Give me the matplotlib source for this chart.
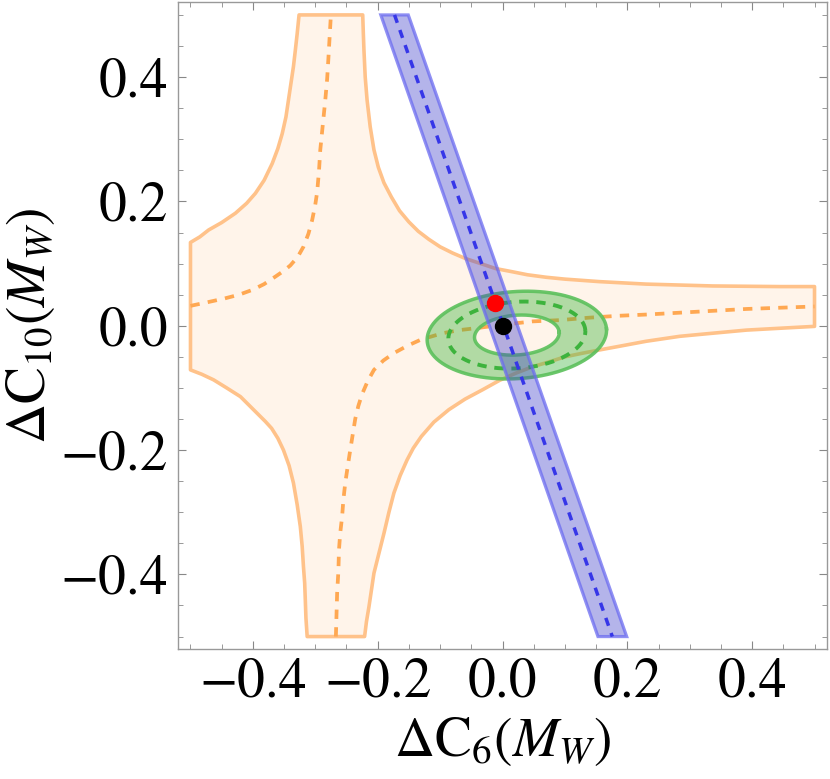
import numpy as np
import matplotlib
matplotlib.use('Agg')
import matplotlib.pyplot as plt
from matplotlib.patches import Polygon, PathPatch
from matplotlib.path import Path
from matplotlib.ticker import MultipleLocator, FuncFormatter

plt.rcParams['mathtext.fontset'] = 'stix'
plt.rcParams['font.family'] = ['STIXGeneral', 'DejaVu Serif']

# orange band: outer boundary pieces
c1_x = [-0.5, -0.485, -0.471, -0.450, -0.428, -0.410, -0.396, -0.382, -0.369, -0.360,
        -0.353, -0.347, -0.343, -0.339, -0.335, -0.332, -0.329, -0.326]
c1_y = [0.134, 0.143, 0.154, 0.166, 0.181, 0.197, 0.213, 0.234, 0.261, 0.285,
        0.309, 0.336, 0.363, 0.390, 0.417, 0.443, 0.470, 0.5]

c2_x = [-0.224, -0.223, -0.222, -0.220, -0.217, -0.212, -0.206, -0.199, -0.190, -0.178,
        -0.165, -0.150, -0.135, -0.118, -0.100, -0.080, -0.059, -0.035, -0.011, 0.015,
        0.040, 0.070, 0.100, 0.155, 0.230, 0.337, 0.445, 0.5]
c2_y = [0.5, 0.470, 0.443, 0.400, 0.363, 0.320, 0.283, 0.255, 0.230, 0.207,
        0.185, 0.167, 0.152, 0.139, 0.127, 0.117, 0.108, 0.100, 0.092, 0.087,
        0.082, 0.078, 0.075, 0.071, 0.067, 0.064, 0.063, 0.063]

c4_x = [0.5, 0.445, 0.391, 0.337, 0.284, 0.230, 0.182, 0.155, 0.129, 0.100,
        0.075, 0.048, 0.022, -0.005, -0.032, -0.060, -0.086, -0.110, -0.130, -0.143,
        -0.153, -0.164, -0.174, -0.182, -0.190, -0.198, -0.206, -0.210, -0.214, -0.218, -0.221]
c4_y = [-0.001, -0.004, -0.007, -0.012, -0.017, -0.025, -0.034, -0.039, -0.044, -0.050,
        -0.058, -0.066, -0.076, -0.088, -0.103, -0.118, -0.135, -0.155, -0.178, -0.197,
        -0.216, -0.241, -0.269, -0.300, -0.334, -0.366, -0.398, -0.425, -0.452, -0.476, -0.5]

c3_x = [-0.313, -0.315, -0.316, -0.317, -0.319, -0.321, -0.324, -0.329, -0.335, -0.342,
        -0.351, -0.360, -0.370, -0.380, -0.388, -0.404, -0.420, -0.442, -0.463, -0.482, -0.5]
c3_y = [-0.5, -0.470, -0.441, -0.414, -0.387, -0.355, -0.323, -0.288, -0.253, -0.225,
        -0.200, -0.181, -0.165, -0.154, -0.146, -0.130, -0.114, -0.100, -0.087, -0.078, -0.071]

# orange central curve (two branches)
d1_x = [-0.5, -0.472, -0.445, -0.422, -0.400, -0.382, -0.364, -0.351, -0.340, -0.328,
        -0.319, -0.311, -0.305, -0.300, -0.297, -0.294, -0.292, -0.288, -0.284, -0.281,
        -0.279, -0.277, -0.275]
d1_y = [0.032, 0.038, 0.044, 0.050, 0.058, 0.067, 0.079, 0.088, 0.097, 0.111,
        0.127, 0.148, 0.170, 0.195, 0.215, 0.250, 0.283, 0.323, 0.363, 0.397,
        0.430, 0.465, 0.5]

d2_x = [-0.267, -0.266, -0.265, -0.263, -0.262, -0.260, -0.257, -0.255, -0.252, -0.248,
        -0.244, -0.240, -0.236, -0.231, -0.225, -0.216, -0.206, -0.191, -0.174, -0.152,
        -0.130, -0.096, -0.069, -0.035, -0.005, 0.048, 0.091, 0.139, 0.185, 0.230,
        0.284, 0.337, 0.391, 0.445, 0.5]
d2_y = [-0.5, -0.465, -0.430, -0.395, -0.360, -0.333, -0.307, -0.280, -0.253, -0.226,
        -0.200, -0.175, -0.150, -0.129, -0.110, -0.089, -0.071, -0.056, -0.044, -0.032,
        -0.022, -0.012, -0.007, -0.003, 0.001, 0.007, 0.009, 0.013, 0.016, 0.018,
        0.021, 0.024, 0.027, 0.029, 0.031]

# blue band: edges at y = 0.5 and y = -0.5
blue_top_x = [-0.195, -0.173, -0.151]
blue_bot_x = [0.153, 0.176, 0.199]
blue_y = [0.5, -0.5]

# green ellipses: center, semi-axes, tilt (deg)
ell_center = (0.023, -0.015)
ell_outer = (0.144, 0.070)
ell_mid = (0.110, 0.0535)
ell_inner = (0.068, 0.032)
ell_angle = 4.0

# points
red_pt = (-0.012, 0.036)
black_pt = (0.0, 0.0)


def ellipse_xy(center, axes, angle, n=300):
    t = np.linspace(0, 2 * np.pi, n)
    a, b = axes
    th = np.deg2rad(angle)
    ex = a * np.cos(t)
    ey = b * np.sin(t)
    return (center[0] + ex * np.cos(th) - ey * np.sin(th),
            center[1] + ex * np.sin(th) + ey * np.cos(th))


def minus_fmt(v, pos):
    s = f'{v:.1f}'
    if s == '-0.0':
        s = '0.0'
    return s.replace('-', '\u2212')


fig = plt.figure(figsize=(8.30, 7.79), dpi=100)
ax = fig.add_axes([178 / 830, 1 - 649 / 779, (827 - 178) / 830, (649 - 2.5) / 779])

# orange region
ox = c1_x + c2_x + c4_x + c3_x
oy = c1_y + c2_y + c4_y + c3_y
ax.add_patch(Polygon(np.column_stack([ox, oy]), closed=True,
                     facecolor='#FFF4EA', edgecolor='#FFC28A', lw=2.6,
                     joinstyle='round', zorder=1))
ax.plot(d1_x, d1_y, color='#FFA852', lw=2.7, ls=(0, (2.5, 2.2)), zorder=2)
ax.plot(d2_x, d2_y, color='#FFA852', lw=2.7, ls=(0, (2.5, 2.2)), zorder=2)

# green ring
oxe, oye = ellipse_xy(ell_center, ell_outer, ell_angle)
ixe, iye = ellipse_xy(ell_center, ell_inner, ell_angle)
ring = np.concatenate([np.column_stack([oxe, oye]), np.column_stack([ixe[::-1], iye[::-1]])])
codes = ([Path.MOVETO] + [Path.LINETO] * (len(oxe) - 1)
         + [Path.MOVETO] + [Path.LINETO] * (len(ixe) - 1))
ax.add_patch(PathPatch(Path(ring, codes), facecolor='#3CB43C', alpha=0.4, lw=0, zorder=3))
ax.plot(oxe, oye, color='#5BC05B', lw=2.5, alpha=0.9, zorder=3)
ax.plot(ixe, iye, color='#5BC05B', lw=2.5, alpha=0.9, zorder=3)
mxe, mye = ellipse_xy(ell_center, ell_mid, ell_angle)
ax.plot(mxe, mye, color='#3DB33D', lw=2.8, ls=(0, (2.4, 2.0)), zorder=3)

# blue band
band = [(blue_top_x[0], blue_y[0]), (blue_top_x[2], blue_y[0]),
        (blue_bot_x[2], blue_y[1]), (blue_bot_x[0], blue_y[1])]
ax.add_patch(Polygon(band, closed=True, facecolor='#4444CC', alpha=0.4, lw=0, zorder=4))
ax.add_patch(Polygon(band, closed=True, facecolor='none', edgecolor='#6B6BF0',
                     alpha=0.75, lw=2.3, zorder=4))
ax.plot([blue_top_x[1], blue_bot_x[1]], blue_y, color='#3636E8', lw=2.5,
        ls=(0, (2.4, 2.2)), zorder=5)

# points
ax.plot(*red_pt, 'o', color='#FF0000', ms=11.5, zorder=6)
ax.plot(*black_pt, 'o', color='black', ms=11.5, zorder=6)

ax.set_xlim(-0.52, 0.52)
ax.set_ylim(-0.52, 0.52)
ax.xaxis.set_major_locator(MultipleLocator(0.2))
ax.yaxis.set_major_locator(MultipleLocator(0.2))
ax.xaxis.set_minor_locator(MultipleLocator(0.05))
ax.yaxis.set_minor_locator(MultipleLocator(0.05))
ax.tick_params(which='both', direction='in', top=True, right=True, color='#888888',
               labelsize=40)
ax.tick_params(which='major', length=6, width=0.8)
ax.tick_params(which='minor', length=3.5, width=0.6)
ax.tick_params(axis='y', pad=7)
ax.tick_params(axis='x', pad=6)
ax.xaxis.set_major_formatter(FuncFormatter(minus_fmt))
ax.yaxis.set_major_formatter(FuncFormatter(minus_fmt))
for sp in ax.spines.values():
    sp.set_color('#999999')
    sp.set_linewidth(1.0)

ax.set_xlabel(r'$\Delta\mathrm{C}_6(M_W)$', fontsize=40, labelpad=5)
ax.set_ylabel(r'$\Delta\mathrm{C}_{10}(M_W)$', fontsize=40, va='center')
ax.yaxis.set_label_coords(-0.228, 0.5)

fig.savefig('out.png', dpi=100)
